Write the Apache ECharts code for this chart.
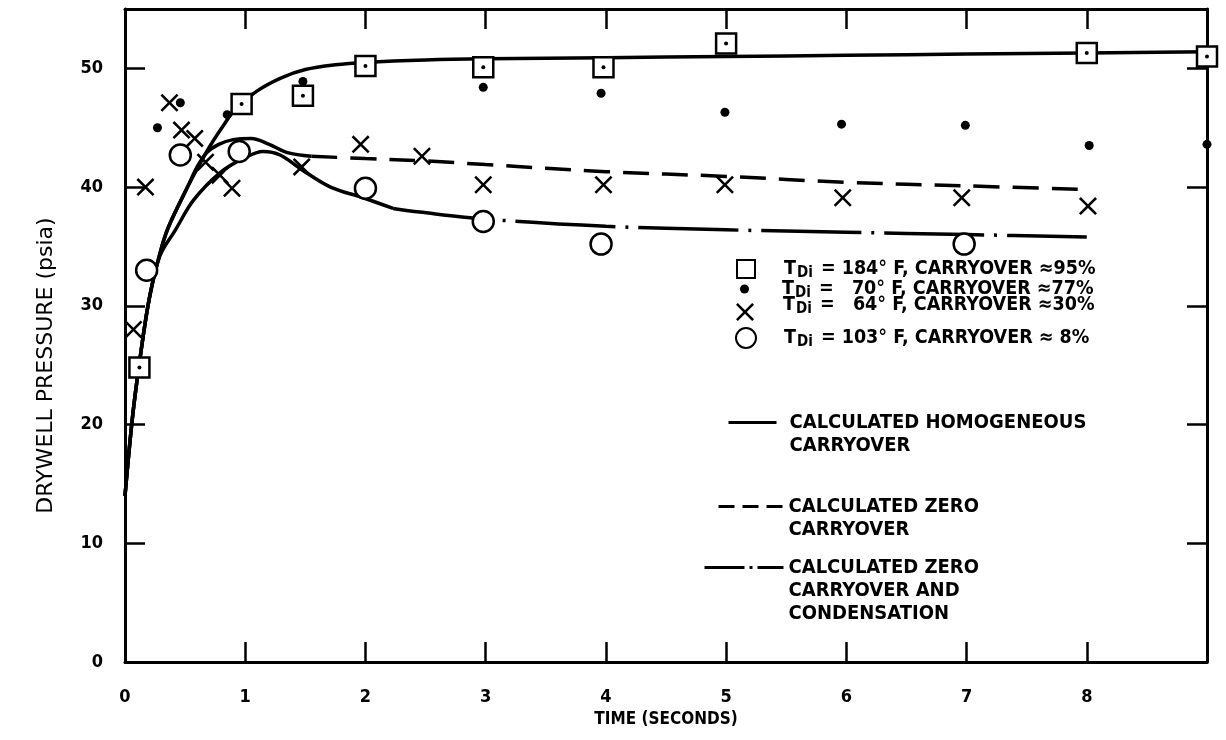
<!DOCTYPE html>
<html lang="en">
<head>
  <script src="https://cdn.jsdelivr.net/npm/echarts@6.0.0/dist/echarts.min.js"></script>
  <meta charset="UTF-8">
</head>
<body style="margin:0">
  <div id="drywellChart" style="width: 1226px;height:740px;"></div>

  <script type="text/javascript">

    // measured points, one array pair per test
    var sqTime = [0.12, 0.97, 1.48, 2.0, 2.98, 3.98, 5.0, 8.0, 9.0];
    var sqPress = [24.8, 47.0, 47.7, 50.2, 50.1, 50.1, 52.1, 51.3, 51.0];

    var dotTime = [0.27, 0.46, 0.85, 1.48, 2.98, 3.96, 4.99, 5.96, 6.99, 8.02, 9.0];
    var dotPress = [45.0, 47.1, 46.1, 48.9, 48.4, 47.9, 46.3, 45.3, 45.2, 43.5, 43.6];

    var xTime = [0.07, 0.17, 0.37, 0.47, 0.58, 0.67, 0.79, 0.89, 1.47, 1.96, 2.47, 2.98, 3.98, 4.99, 5.97, 6.96, 8.01];
    var xPress = [28.0, 40.0, 47.1, 44.8, 44.1, 42.1, 41.0, 39.9, 41.7, 43.6, 42.6, 40.2, 40.2, 40.2, 39.1, 39.1, 38.4];

    var circTime = [0.18, 0.46, 0.95, 2.0, 2.98, 3.96, 6.98];
    var circPress = [33.0, 42.7, 43.0, 39.9, 37.1, 35.2, 35.2];

    // calculated curves
    var homoTime = [0, 0.06, 0.12, 0.2, 0.29, 0.36, 0.52, 0.62, 0.71, 0.82, 0.92, 1.1, 1.3, 1.5, 1.75, 2.0, 2.5, 3, 4, 5, 6, 7, 8, 9];
    var homoPress = [14, 20.4, 25.2, 30.5, 34.4, 36.6, 40.0, 41.9, 43.5, 45.2, 46.6, 48.1, 49.2, 49.9, 50.3, 50.5, 50.7, 50.8, 50.9, 51.0, 51.1, 51.2, 51.3, 51.4];

    var zeroHeadTime = [0, 0.06, 0.12, 0.2, 0.29, 0.36, 0.52, 0.6, 0.68, 0.78, 0.9, 1.05, 1.2, 1.35, 1.55];
    var zeroHeadPress = [14, 20.4, 25.2, 30.5, 34.4, 36.6, 40.0, 41.7, 42.9, 43.6, 44.0, 44.1, 43.6, 42.9, 42.6];
    var zeroTailTime = [1.55, 2, 2.5, 3, 4, 5, 6, 7, 8];
    var zeroTailPress = [42.6, 42.4, 42.2, 41.9, 41.3, 40.9, 40.4, 40.1, 39.8];

    var condHeadTime = [0, 0.06, 0.12, 0.2, 0.29, 0.42, 0.57, 0.79, 1.0, 1.15, 1.29, 1.48, 1.71, 1.98, 2.23];
    var condHeadPress = [14, 20.4, 25.2, 30.5, 34.2, 36.4, 38.9, 41.2, 42.5, 43.0, 42.7, 41.4, 40.0, 39.1, 38.2];
    var condTailTime = [2.23, 2.45, 3, 4, 5, 6, 7, 8];
    var condTailPress = [38.2, 37.9, 37.3, 36.7, 36.4, 36.2, 36.0, 35.8];

    var xTicks = [0, 1, 2, 3, 4, 5, 6, 7, 8];
    var yTicks = [0, 10, 20, 30, 40, 50];

    var testNames = ['sq', 'dot', 'x', 'circ'];
    var testLabels = ['= 184° F, CARRYOVER \u224895%', '=   70° F, CARRYOVER \u224877%', '=   64° F, CARRYOVER \u224830%', '= 103° F, CARRYOVER \u2248 8%'];
    var curveNames = ['CALCULATED HOMOGENEOUS\nCARRYOVER', 'CALCULATED ZERO\nCARRYOVER', 'CALCULATED ZERO\nCARRYOVER AND\nCONDENSATION'];

    var font = 'DejaVu Sans Condensed';
    var xMark = 'path://M0,2 L2,0 L10,8 L18,0 L20,2 L12,10 L20,18 L18,20 L10,12 L2,20 L0,18 L8,10 Z';

    function pairs(xs, ys) {
      return xs.map(function (x, i) { return [x, ys[i]]; });
    }

    function lineSeries(name, xs, ys, type) {
      return {
        name: name,
        type: 'line',
        data: pairs(xs, ys),
        smooth: 0.35,
        symbol: 'none',
        itemStyle: { color: '#000' },
        lineStyle: { color: '#000', width: 3.5, type: type },
        z: 2
      };
    }

    function richLabel(i) {
      return function () { return '{t|T}{s|Di}{t| ' + testLabels[i] + '}'; };
    }

    var richStyle = {
      t: { fontFamily: font, fontWeight: 'bold', fontSize: 19.5, color: '#000', lineHeight: 22 },
      s: { fontFamily: font, fontWeight: 'bold', fontSize: 15, color: '#000', lineHeight: 22, padding: [9, 2, 0, 1] }
    };

    function testLegend(i, left, top, size, padLeft, padBottom) {
      return {
        data: [testNames[i]],
        left: left, top: top, padding: 0,
        itemWidth: size, itemHeight: size,
        formatter: richLabel(i),
        textStyle: { rich: richStyle, padding: [0, 0, padBottom || 0, padLeft] }
      };
    }

    // blank lines in front keep the icon level with the first text line
    function curveLegend(i, left, top, width, padLeft, dash) {
      var lines = curveNames[i].split('\n').length;
      var lead = new Array(lines).join('\n');
      return {
        data: [curveNames[i]],
        left: left, top: top, padding: 0,
        itemWidth: width, itemHeight: 10,
        lineStyle: { type: dash, width: 3 },
        itemStyle: { opacity: 0 },
        formatter: function (name) { return lead + name; },
        textStyle: {
          fontFamily: font, fontWeight: 'bold', fontSize: 20, color: '#000',
          lineHeight: 23, padding: [0, 0, 0, padLeft]
        }
      };
    }

    function createDrywellChart() {
      var chart = echarts.init(document.getElementById('drywellChart'));

      var axisLine = { onZero: false, lineStyle: { color: '#000', width: 3 } };
      var tick = { inside: true, length: 20, lineStyle: { color: '#000', width: 2.5 } };
      var labelFont = { fontFamily: font, fontWeight: 'bold', fontSize: 18, color: '#000' };

      var option = {
        animation: false,
        backgroundColor: '#fff',
        grid: { left: 125, right: 19, top: 9, bottom: 78 },
        xAxis: [{
          type: 'value', min: 0, max: 9, interval: 1,
          name: 'TIME (SECONDS)', nameLocation: 'middle', nameGap: 48,
          nameTextStyle: { fontFamily: font, fontWeight: 'bold', fontSize: 17, color: '#000' },
          axisLine: axisLine, axisTick: tick, splitLine: { show: false },
          axisLabel: Object.assign({ margin: 26, formatter: function (v) {
            return xTicks.indexOf(v) >= 0 ? String(v) : '';
          } }, labelFont)
        }, {
          type: 'value', min: 0, max: 9, interval: 1, position: 'top',
          axisLine: axisLine, axisTick: tick, splitLine: { show: false },
          axisLabel: { show: false }
        }],
        yAxis: [{
          type: 'value', min: 0, max: 55, interval: 10,
          name: 'DRYWELL PRESSURE (psia)', nameLocation: 'middle', nameGap: 68,
          nameTextStyle: { fontFamily: 'DejaVu Sans', fontSize: 22, color: '#000', padding: [0, 60, 0, 0] },
          axisLine: axisLine, axisTick: tick, splitLine: { show: false },
          axisLabel: Object.assign({ margin: 22, formatter: function (v) {
            return yTicks.indexOf(v) >= 0 ? String(v) : '';
          } }, labelFont)
        }, {
          type: 'value', min: 0, max: 55, interval: 10, position: 'right',
          axisLine: axisLine, axisTick: tick, splitLine: { show: false },
          axisLabel: { show: false }
        }],
        legend: [
          testLegend(0, 736, 257, 18, 24),
          testLegend(1, 740, 277, 9, 28),
          testLegend(2, 736, 293, 18, 24, 14),
          testLegend(3, 735, 326, 20, 23),
          curveLegend(0, 727, 388, 48, 8, 'solid'),
          curveLegend(1, 717, 472, 65, 0, [16, 8]),
          curveLegend(2, 703, 510, 79, 0, [40, 5, 3, 5])
        ],
        series: [
          lineSeries(curveNames[0], homoTime, homoPress, 'solid'),
          lineSeries(curveNames[1], zeroTailTime, zeroTailPress, [26, 13]),
          lineSeries('zeroHead', zeroHeadTime, zeroHeadPress, 'solid'),
          lineSeries(curveNames[2], condTailTime, condTailPress, [100, 10, 3, 10]),
          lineSeries('condHead', condHeadTime, condHeadPress, 'solid'),
          {
            name: testNames[0], type: 'scatter', data: pairs(sqTime, sqPress),
            symbol: 'rect', symbolSize: 20, z: 3,
            itemStyle: { color: '#fff', borderColor: '#000', borderWidth: 2.5, opacity: 1 }
          },
          {
            name: 'sqCentre', type: 'scatter', data: pairs(sqTime, sqPress),
            symbol: 'circle', symbolSize: 4, z: 4,
            itemStyle: { color: '#000', opacity: 1 }
          },
          {
            name: testNames[1], type: 'scatter', data: pairs(dotTime, dotPress),
            symbol: 'circle', symbolSize: 9, z: 3,
            itemStyle: { color: '#000', opacity: 1 }
          },
          {
            name: testNames[2], type: 'scatter', data: pairs(xTime, xPress),
            symbol: xMark, symbolSize: 18, z: 3,
            itemStyle: { color: '#000', opacity: 1 }
          },
          {
            name: testNames[3], type: 'scatter', data: pairs(circTime, circPress),
            symbol: 'circle', symbolSize: 21, z: 3,
            itemStyle: { color: '#fff', borderColor: '#000', borderWidth: 2.5, opacity: 1 }
          }
        ]
      };

      chart.setOption(option);
    }
    createDrywellChart();
  </script>
</body>
</html>
